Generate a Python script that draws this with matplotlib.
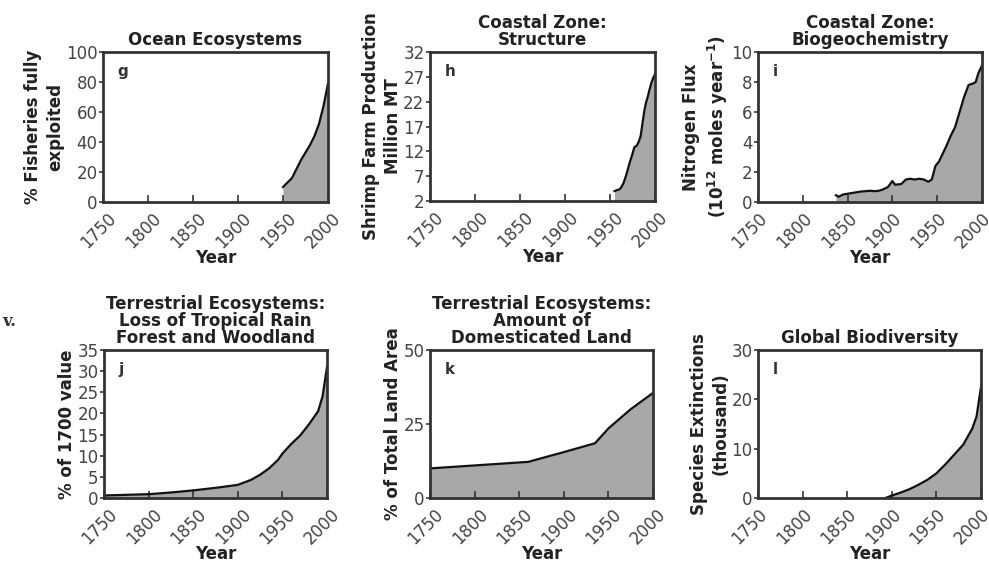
import matplotlib
matplotlib.use('Agg')
import matplotlib.pyplot as plt
import matplotlib.transforms as mtransforms

plt.rcParams['font.family'] = ['DejaVu Sans']

# g - Ocean ecosystems: % fisheries fully exploited
g_years = [1950, 1955, 1960, 1965, 1970, 1975, 1980, 1985, 1990, 1995, 2000]
g_vals = [10, 13, 16, 22, 28, 33, 38, 44, 52, 64, 79]

# h - Shrimp farm production (million MT)
h_years = [1955, 1958, 1960, 1962, 1965, 1968, 1970, 1972, 1975, 1977, 1980, 1982,
           1984, 1986, 1988, 1990, 1992, 1994, 1996, 1998, 2000]
h_vals = [4.0, 4.2, 4.3, 4.6, 5.6, 7.2, 8.5, 9.8, 11.5, 12.8, 13.2, 14.0,
          15.0, 17.5, 20.0, 21.8, 23.0, 24.5, 25.8, 26.8, 27.5]

# i - Nitrogen flux (10^12 moles / year)
i_years = [1837, 1840, 1845, 1850, 1855, 1860, 1865, 1870, 1875, 1880, 1885, 1890,
           1895, 1900, 1903, 1910, 1915, 1920, 1925, 1930, 1935, 1940, 1944, 1948,
           1952, 1956, 1960, 1965, 1970, 1975, 1980, 1985, 1990, 1993, 1996, 2000]
i_vals = [0.45, 0.35, 0.5, 0.55, 0.6, 0.65, 0.7, 0.72, 0.75, 0.72, 0.75, 0.85,
          1.0, 1.4, 1.15, 1.2, 1.5, 1.55, 1.5, 1.55, 1.5, 1.35, 1.5, 2.4,
          2.7, 3.2, 3.7, 4.4, 5.0, 6.0, 7.0, 7.8, 7.9, 8.0, 8.6, 9.1]

# j - Loss of tropical rain forest (% of 1700 value)
j_years = [1750, 1775, 1800, 1825, 1850, 1875, 1900, 1915, 1925, 1935, 1945, 1950,
           1960, 1970, 1980, 1990, 1995, 2000]
j_vals = [0.6, 0.75, 0.9, 1.3, 1.8, 2.4, 3.1, 4.3, 5.5, 7.0, 9.0, 10.5,
          12.8, 14.8, 17.5, 20.5, 24.0, 31.0]

# k - Domesticated land (% of total land area)
k_years = [1750, 1800, 1860, 1900, 1935, 1950, 1975, 2000]
k_vals = [10, 11, 12.2, 15.5, 18.5, 23.5, 30, 35.5]

# l - Species extinctions (thousand)
l_years = [1893, 1900, 1910, 1920, 1930, 1940, 1950, 1960, 1970, 1980, 1990, 1995, 2000]
l_vals = [0, 0.5, 1.1, 1.8, 2.7, 3.7, 5.0, 6.8, 8.8, 10.8, 14.0, 16.5, 22.5]

years_ticks = [1750, 1800, 1850, 1900, 1950, 2000]

panels = [
    # pixel box (x0, y0, x1, y1), title, ylabel, letter, years, vals, ylim, yticks
    ((103, 52, 328, 202), 'Ocean Ecosystems', '% Fisheries fully\nexploited', 'g',
     g_years, g_vals, (0, 100), [0, 20, 40, 60, 80, 100]),
    ((430, 52, 655, 201), 'Coastal Zone:\nStructure', 'Shrimp Farm Production\nMillion MT', 'h',
     h_years, h_vals, (2, 32), [2, 7, 12, 17, 22, 27, 32]),
    ((758, 52, 982, 202), 'Coastal Zone:\nBiogeochemistry',
     'Nitrogen Flux\n(10$^{\\mathbf{12}}$ moles year$^{\\mathbf{-1}}$)', 'i',
     i_years, i_vals, (0, 10), [0, 2, 4, 6, 8, 10]),
    ((104, 350, 327, 498), 'Terrestrial Ecosystems:\nLoss of Tropical Rain\nForest and Woodland',
     '% of 1700 value', 'j', j_years, j_vals, (0, 35), [0, 5, 10, 15, 20, 25, 30, 35]),
    ((430, 350, 653, 498), 'Terrestrial Ecosystems:\nAmount of\nDomesticated Land',
     '% of Total Land Area', 'k', k_years, k_vals, (0, 50), [0, 25, 50]),
    ((758, 350, 981, 498), 'Global Biodiversity', 'Species Extinctions\n(thousand)', 'l',
     l_years, l_vals, (0, 30), [0, 10, 20, 30]),
]

W, H = 989, 562
fig = plt.figure(figsize=(W / 100, H / 100), dpi=100)
# year labels sit a few pixels right of their ticks (not in the right column: page edge)
shift = mtransforms.ScaledTranslation(4 / 100, 0, fig.dpi_scale_trans)

for (x0, y0, x1, y1), title, ylabel, letter, xs, ys, ylim, yticks in panels:
    ax = fig.add_axes([x0 / W, 1 - y1 / H, (x1 - x0) / W, (y1 - y0) / H])
    ax.fill_between(xs, ys, ylim[0], color='#a8a8a8', lw=0)
    ax.plot(xs, ys, color='#111111', lw=1.6)
    ax.set_xlim(1750, 2000)
    ax.set_ylim(*ylim)
    ax.set_xticks(years_ticks)
    ax.set_yticks(yticks)
    ax.tick_params(axis='y', labelsize=12, labelcolor='#444444', direction='out',
                   length=3, width=1.2, color='#333333', pad=1)
    ax.tick_params(axis='x', direction='in', length=5, width=1.2, color='#333333', pad=5)
    ax.set_xticklabels([str(y) for y in years_ticks], rotation=45, ha='right', va='top',
                       rotation_mode='anchor', fontsize=12, color='#444444')
    if x1 < 900:
        for lbl in ax.get_xticklabels():
            lbl.set_transform(lbl.get_transform() + shift)
    for sp in ax.spines.values():
        sp.set_linewidth(2)
        sp.set_color('#333333')
    ax.set_title(title, fontsize=12, fontweight='bold', color='#222222', pad=5,
                 linespacing=0.92)
    ax.set_ylabel(ylabel, fontsize=12, fontweight='bold', color='#222222',
                  labelpad=1, linespacing=1.3)
    ax.set_xlabel('Year', fontsize=12, fontweight='bold', color='#222222', labelpad=-2)
    ax.text(0.065, 0.87, letter, transform=ax.transAxes, fontsize=11, fontweight='bold',
            color='#333333', va='center', ha='left')

# stray fragment from the page margin
fig.text(0.002, 1 - 322 / H, 'v.', fontsize=12, fontweight='bold', family='DejaVu Serif',
         color='#333333', va='center')

fig.savefig('out.png', dpi=100)
